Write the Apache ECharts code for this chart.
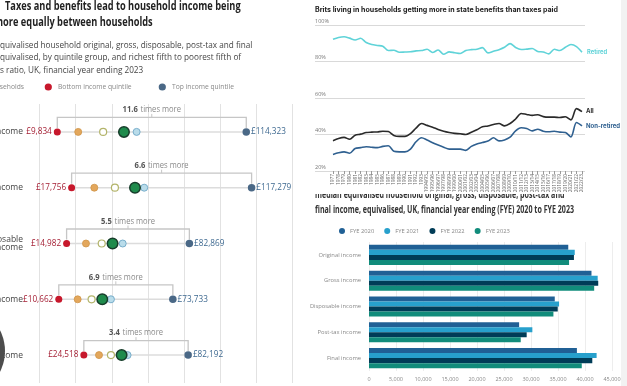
<!DOCTYPE html>
<html><head><meta charset="utf-8">
<script src="https://cdn.jsdelivr.net/npm/echarts@6/dist/echarts.min.js"></script>
<style>html,body{margin:0;padding:0;background:#fff;overflow:hidden}#c{width:627px;height:386px}</style>
</head><body><div id="c"></div><script>
// ---- Left panel: dot plot ----
const dotCategories = ['Original income','Gross income','Disposable\nincome','Post-tax income','Final income'];
const bottomQuintile = [9834, 17756, 14982, 10662, 24518];
const secondQuintile = [21400, 30300, 25700, 21100, 32900];
const middleQuintile = [35200, 41700, 34400, 28800, 39500];
const fourthQuintile = [53700, 57900, 46000, 39500, 48700];
const allHouseholds = [46700, 52800, 40400, 34700, 45400];
const topQuintile = [114323, 117279, 82869, 73733, 82192];
const timesMore = ['11.6','6.6','5.5','6.9','3.4'];
const dotTicks = [0,20000,40000,60000,80000,100000,120000,140000];

// ---- Top right: line chart ----
const years = ['1977','1978','1979','1980','1981','1982','1983','1984','1985','1986','1987','1988','1989','1990','1991','1992','1993',
 '1994/95','1995/96','1996/97','1997/98','1998/99','1999/00','2000/01','2001/02','2002/03','2003/04','2004/05','2005/06','2006/07',
 '2007/08','2008/09','2009/10','2010/11','2011/12','2012/13','2013/14','2014/15','2015/16','2016/17','2017/18','2018/19','2019/20',
 '2020/21','2021/22','2022/23'];
const retired = [92.2,93.2,93.6,92.8,91.8,92.7,90.4,89.3,88.8,88.4,86.0,86.2,85.1,85.2,85.3,85.8,86.0,86.7,84.9,86.3,84.0,85.3,84.8,84.4,
 86.0,86.5,86.7,87.6,84.7,85.6,86.5,87.8,89.8,87.7,86.6,86.8,87.1,85.5,85.2,84.2,86.7,86.0,87.8,89.3,88.2,85.1];
const allPeople = [36.6,37.8,38.4,37.4,39.6,40.2,41.1,41.3,41.4,41.8,41.6,39.5,39.0,39.0,40.5,43.5,46.0,45.0,44.0,42.8,41.8,41.1,40.6,40.4,
 40.0,41.2,42.6,44.2,44.7,45.5,46.0,44.7,46.0,48.5,51.5,51.0,50.5,50.8,49.8,49.5,49.5,49.3,49.7,48.0,54.2,52.5];
const nonRetired = [29.1,30.0,30.5,29.7,32.3,32.8,33.3,33.0,32.8,33.5,33.8,30.8,30.5,30.5,32.0,36.0,38.2,37.0,35.5,34.2,33.0,32.0,32.0,32.0,
 31.3,33.5,34.8,35.6,36.4,38.2,36.5,37.0,38.5,42.0,43.7,43.3,42.0,42.9,41.8,41.5,41.8,41.3,41.1,38.7,46.6,44.7];

// ---- Bottom right: bar chart ----
const barCategories = ['Original income','Gross income','Disposable income','Post-tax income','Final income'];
const fye2020 = [36900, 41200, 34400, 27800, 38500];
const fye2021 = [38100, 42350, 35200, 30250, 42150];
const fye2022 = [37950, 42450, 34950, 29200, 41350];
const fye2023 = [37050, 41700, 34150, 28100, 39400];
const barTicks = [0,5000,10000,15000,20000,25000,30000,35000,40000,45000];

const fmt = v => v.toLocaleString('en-GB');
const chart = echarts.init(document.getElementById('c'), null, {renderer:'canvas'});

function renderConnector(params, api) {
  const cat = api.value(2);
  const p1 = api.coord([api.value(0), cat]);
  const p2 = api.coord([api.value(1), cat]);
  const y = p1[1];
  const mid = (p1[0] + p2[0]) / 2;
  const ratio = timesMore[params.dataIndex];
  return {type:'group', children:[
    {type:'line', shape:{x1:p1[0], y1:y, x2:p2[0], y2:y}, style:{stroke:'#dcdcdc', lineWidth:1.5}},
    {type:'polyline', shape:{points:[[p1[0], y-4],[p1[0], y-14.5],[p2[0], y-14.5],[p2[0], y-4]]}, style:{stroke:'#c6c6c6', lineWidth:1.3, fill:null}},
    {type:'line', shape:{x1:mid, y1:y-14.5, x2:mid, y2:y-18}, style:{stroke:'#c6c6c6', lineWidth:1}},
    {type:'text', x:mid, y:y-22.5, scaleX:0.8, style:{text:'{b|'+ratio+'} {n|times more}', align:'center', verticalAlign:'middle',
      rich:{b:{fontFamily:'Open Sans', fontWeight:'bold', fontSize:9.5, fill:'#555'}, n:{fontFamily:'Open Sans', fontSize:9.5, fill:'#8a8a8a'}}}}
  ]};
}

const smallDot = (name, data, color, border, bw) => ({
  type:'scatter', name, xAxisIndex:0, yAxisIndex:0, data: data.map((v,i)=>[v,i]), symbolSize:7, z:3,
  itemStyle:{color, borderColor:border, borderWidth:bw, opacity:1}
});

const option = {
  animation:false,
  backgroundColor:'#fff',
  textStyle:{fontFamily:'Open Sans'},
  legend:{
    data:['FYE 2020','FYE 2021','FYE 2022','FYE 2023'], left:334, top:223, icon:'circle', itemWidth:6, itemHeight:6, itemGap:10,
    textStyle:{fontSize:5.8, color:'#888', fontFamily:'Open Sans'}
  },
  grid:[
    {left:39.5, right:334.3, top:104, bottom:3, outerBoundsMode:'none', containLabel:false},
    {left:315, right:42, top:25, bottom:215, outerBoundsMode:'none', containLabel:false},
    {left:333, right:45, top:25, bottom:215, outerBoundsMode:'none', containLabel:false},
    {left:369, right:15, top:242, bottom:15, outerBoundsMode:'none', containLabel:false}
  ],
  xAxis:[
    {gridIndex:0, type:'value', min:0, max:140000, interval:20000, axisLine:{show:false}, axisTick:{show:false},
      splitLine:{lineStyle:{color:'#e2e2e2', width:1}}, axisLabel:{fontSize:7.5, color:'#777', margin:2, formatter:fmt}},
    {gridIndex:1, type:'value', min:0, max:1, show:false},
    {gridIndex:2, type:'category', data:years, boundaryGap:false, z:10, axisLine:{show:false},
      axisTick:{show:true, length:3, lineStyle:{color:'#999'}, interval:0},
      axisLabel:{rotate:90, interval:0, fontSize:4.8, color:'#666', margin:3}},
    {gridIndex:3, type:'value', min:0, max:45000, interval:5000, axisLine:{show:false}, axisTick:{show:false},
      splitLine:{lineStyle:{color:'#ededed'}}, axisLabel:{fontSize:5.5, color:'#888', margin:5, formatter:fmt}}
  ],
  yAxis:[
    {gridIndex:0, type:'category', data:dotCategories, inverse:true, axisLine:{show:false}, axisTick:{show:false}, splitLine:{show:false},
      axisLabel:{fontSize:8.5, color:'#444', margin:16.5, lineHeight:8.5}},
    {gridIndex:1, type:'value', min:20, max:100, interval:20, axisLine:{show:false}, axisTick:{show:false},
      splitLine:{lineStyle:{color:'#d9d9d9'}},
      axisLabel:{inside:true, formatter:'{value}%', fontSize:5.5, color:'#777', verticalAlign:'bottom', margin:0, padding:[0,0,1,0]}},
    {gridIndex:2, type:'value', min:20, max:100, show:false, splitLine:{show:false}},
    {gridIndex:3, type:'category', data:barCategories, inverse:true, axisLine:{show:false}, axisTick:{show:false},
      axisLabel:{fontSize:5.8, color:'#888', margin:8}}
  ],
  series:[
    {type:'custom', name:'connectors', xAxisIndex:0, yAxisIndex:0, z:1, renderItem:renderConnector, encode:{x:[0,1], y:2},
      data: bottomQuintile.map((v,i)=>[v, topQuintile[i], i])},
    {type:'scatter', name:'Bottom income quintile', xAxisIndex:0, yAxisIndex:0, data:bottomQuintile.map((v,i)=>[v,i]), symbolSize:7, z:3,
      itemStyle:{color:'#c7182c', opacity:1},
      label:{show:true, position:'left', distance:2, formatter:p=>'£'+fmt(p.value[0]), fontSize:8.2, color:'#a52035', fontFamily:'Open Sans'}},
    smallDot('Second quintile', secondQuintile, '#e3a75c', '#cf9447', 0.8),
    smallDot('Middle quintile', middleQuintile, '#ffffff', '#b3b46a', 1.2),
    smallDot('Fourth quintile', fourthQuintile, '#b9dcea', '#78aecb', 1),
    {type:'scatter', name:'All households', xAxisIndex:0, yAxisIndex:0, data:allHouseholds.map((v,i)=>[v,i]), symbolSize:10.5, z:4,
      itemStyle:{color:'#1f8b4c', borderColor:'#173d2b', borderWidth:1.5, opacity:1}},
    {type:'scatter', name:'Top income quintile', xAxisIndex:0, yAxisIndex:0, data:topQuintile.map((v,i)=>[v,i]), symbolSize:7.5, z:3,
      itemStyle:{color:'#4a6886', opacity:1},
      label:{show:true, position:'right', distance:1, formatter:p=>'£'+fmt(p.value[0]), fontSize:8.2, color:'#3e6990', fontFamily:'Open Sans'}},

    {type:'line', name:'Retired', xAxisIndex:2, yAxisIndex:2, data:retired, showSymbol:false, smooth:0.3,
      lineStyle:{color:'#5fd3d8', width:1.6}, itemStyle:{color:'#5fd3d8'},
      endLabel:{show:true, formatter:'Retired', fontSize:5.8, color:'#5fd3d8', fontWeight:'bold', distance:5, fontFamily:'Inter'}},
    {type:'line', name:'All', xAxisIndex:2, yAxisIndex:2, data:allPeople, showSymbol:false, smooth:0.3,
      lineStyle:{color:'#2a2a2a', width:1.6}, itemStyle:{color:'#2a2a2a'},
      endLabel:{show:true, formatter:'All', fontSize:6, color:'#2a2a2a', fontWeight:'bold', distance:4, fontFamily:'Inter'}},
    {type:'line', name:'Non-retired', xAxisIndex:2, yAxisIndex:2, data:nonRetired, showSymbol:false, smooth:0.3,
      lineStyle:{color:'#2f6090', width:1.6}, itemStyle:{color:'#2f6090'},
      endLabel:{show:true, formatter:'Non-retired', fontSize:6, color:'#2f6090', fontWeight:'bold', distance:4, fontFamily:'Inter'}},

    {type:'bar', name:'FYE 2020', xAxisIndex:3, yAxisIndex:3, data:fye2020, itemStyle:{color:'#206095'}, barGap:'0%', barCategoryGap:'22%'},
    {type:'bar', name:'FYE 2021', xAxisIndex:3, yAxisIndex:3, data:fye2021, itemStyle:{color:'#27a0cc'}},
    {type:'bar', name:'FYE 2022', xAxisIndex:3, yAxisIndex:3, data:fye2022, itemStyle:{color:'#003c57'}},
    {type:'bar', name:'FYE 2023', xAxisIndex:3, yAxisIndex:3, data:fye2023, itemStyle:{color:'#118c7b'}}
  ],
  graphic:[
    {type:'rect', shape:{x:621, y:0, width:6, height:386}, style:{fill:'#f2f2f2'}, z:0},
    {type:'circle', shape:{cx:-41, cy:351, r:46}, style:{fill:'#4d4d4d'}, z:20},
    // left titles
    {type:'text', x:5, y:7, scaleX:0.77, style:{text:'Taxes and benefits lead to household income being', fontFamily:'Open Sans', fontWeight:'bold', fontSize:12, fill:'#222', verticalAlign:'middle'}},
    {type:'text', x:-6, y:23, scaleX:0.77, style:{text:'more equally between households', fontFamily:'Open Sans', fontWeight:'bold', fontSize:12, fill:'#222', verticalAlign:'middle'}},
    {type:'text', x:0, y:45, scaleX:0.91, style:{text:'quivalised household original, gross, disposable, post-tax and final', fontFamily:'Open Sans', fontSize:9, fill:'#444', verticalAlign:'middle'}},
    {type:'text', x:0, y:57.5, scaleX:0.91, style:{text:'quivalised, by quintile group, and richest fifth to poorest fifth of', fontFamily:'Open Sans', fontSize:9, fill:'#444', verticalAlign:'middle'}},
    {type:'text', x:0, y:70, scaleX:0.91, style:{text:'s ratio, UK, financial year ending 2023', fontFamily:'Open Sans', fontSize:9, fill:'#444', verticalAlign:'middle'}},
    // left legend
    {type:'text', x:24, y:87, scaleX:0.84, style:{text:'All households', align:'right', fontFamily:'Open Sans', fontSize:8, fill:'#888', verticalAlign:'middle'}},
    {type:'circle', shape:{cx:48.3, cy:87, r:3.6}, style:{fill:'#c7182c'}},
    {type:'text', x:58, y:87, scaleX:0.84, style:{text:'Bottom income quintile', fontFamily:'Open Sans', fontSize:8, fill:'#888', verticalAlign:'middle'}},
    {type:'circle', shape:{cx:162.3, cy:87, r:3.6}, style:{fill:'#4a6886'}},
    {type:'text', x:172, y:87, scaleX:0.84, style:{text:'Top income quintile', fontFamily:'Open Sans', fontSize:8, fill:'#888', verticalAlign:'middle'}},
    // right titles
    {type:'text', x:315, y:10, style:{text:'Brits living in households getting more in state benefits than taxes paid', fontFamily:'Inter', fontWeight:'bold', fontSize:7.05, fill:'#222', verticalAlign:'middle'}},
    {type:'text', x:315, y:195, scaleX:0.71, z:1, style:{text:'median equivalised household original, gross, disposable, post-tax and', fontFamily:'Open Sans', fontWeight:'bold', fontSize:10, fill:'#333', verticalAlign:'middle'}},
    {type:'rect', shape:{x:312, y:186, width:300, height:8}, style:{fill:'#fff'}, z:2},
    {type:'text', x:315, y:210.5, scaleX:0.71, style:{text:'final income, equivalised, UK, financial year ending (FYE) 2020 to FYE 2023', fontFamily:'Open Sans', fontWeight:'bold', fontSize:10, fill:'#333', verticalAlign:'middle'}}
  ]
};
chart.setOption(option);
</script></body></html>
